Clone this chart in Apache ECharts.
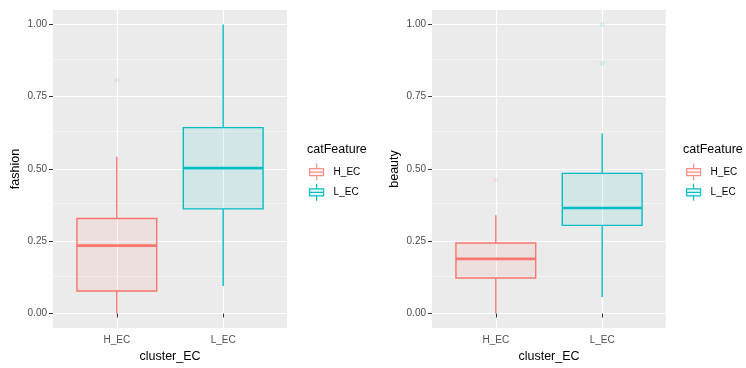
<!DOCTYPE html>
<html>
<head>
<meta charset="utf-8">
<script src="https://cdn.jsdelivr.net/npm/echarts@6/dist/echarts.min.js"></script>
<style>html,body{margin:0;padding:0;background:#fff;}#c{width:746px;height:368px;}</style>
</head>
<body>
<div id="c"></div>
<script>
// ---- data ----
const categories = ['H_EC', 'L_EC'];
const xPositions = [1, 2];
const yTicks = [0, 0.25, 0.5, 0.75, 1.0];
const yMinorTicks = [0.125, 0.375, 0.625, 0.875];
// [min, Q1, median, Q3, max]
const fashionH = [0.000, 0.078, 0.235, 0.329, 0.542];
const fashionL = [0.095, 0.362, 0.503, 0.643, 1.000];
const fashionOutH = [0.808];
const fashionOutL = [];
const beautyH = [0.000, 0.123, 0.189, 0.244, 0.340];
const beautyL = [0.057, 0.305, 0.365, 0.485, 0.623];
const beautyOutH = [0.462];
const beautyOutL = [0.865, 1.000];

const COLORS = { H_EC: '#F8766D', L_EC: '#00BFC4' };
const FILLS = { H_EC: 'rgba(248,118,109,0.1)', L_EC: 'rgba(0,191,196,0.1)' };
const OUT = { H_EC: 'rgba(248,118,109,0.18)', L_EC: 'rgba(0,191,196,0.18)' };
const BOX_WIDTH = 0.75;
const FONT = "'Liberation Sans', Arial, sans-serif";

function renderBox(params, api) {
  const x = api.value(0);
  const lo = api.coord([x, api.value(1)]);
  const q1 = api.coord([x, api.value(2)]);
  const med = api.coord([x, api.value(3)]);
  const q3 = api.coord([x, api.value(4)]);
  const hi = api.coord([x, api.value(5)]);
  const w = api.size([BOX_WIDTH, 0])[0];
  const c = COLORS[params.seriesName];
  const f = FILLS[params.seriesName];
  return {
    type: 'group',
    children: [
      { type: 'line', shape: { x1: lo[0], y1: lo[1], x2: q1[0], y2: q1[1] }, style: { stroke: c, lineWidth: 1.4 } },
      { type: 'line', shape: { x1: q3[0], y1: q3[1], x2: hi[0], y2: hi[1] }, style: { stroke: c, lineWidth: 1.4 } },
      { type: 'rect', shape: { x: q3[0] - w / 2, y: q3[1], width: w, height: q1[1] - q3[1] }, style: { fill: f, stroke: c, lineWidth: 1.4 } },
      { type: 'line', shape: { x1: med[0] - w / 2, y1: med[1], x2: med[0] + w / 2, y2: med[1] }, style: { stroke: c, lineWidth: 2.6 } }
    ]
  };
}

function boxSeries(name, stats, gi, xi) {
  return {
    type: 'custom', name: name, xAxisIndex: gi, yAxisIndex: gi,
    renderItem: renderBox,
    encode: { x: 0, y: [1, 2, 3, 4, 5] },
    itemStyle: { color: COLORS[name] },
    data: [[xPositions[xi]].concat(stats)],
    z: 3
  };
}
function outSeries(name, vals, gi, xi, withMinor) {
  const s = {
    type: 'scatter', name: name, xAxisIndex: gi, yAxisIndex: gi,
    symbolSize: 5, itemStyle: { color: OUT[name] },
    data: vals.map(v => [xPositions[xi], v]), z: 4, silent: true
  };
  if (withMinor) {
    s.markLine = {
      silent: true, symbol: ['none', 'none'], z: 1,
      label: { show: false },
      lineStyle: { color: '#F6F6F6', width: 0.8, type: 'solid' },
      emphasis: { disabled: true },
      data: yMinorTicks.map(v => ({ yAxis: v }))
    };
  }
  return s;
}

const panels = [
  { left: 53, yName: 'fashion', legendLeft: 309, titleLeft: 307 },
  { left: 432, yName: 'beauty', legendLeft: 686, titleLeft: 683 }
];
const PLOT_W = 234, PLOT_TOP = 10, PLOT_H = 321;

const keyIcon = 'path://M0,5 L14,5 L14,12 L0,12 Z M0,8.5 L14,8.5 M7,0 L7,5 M7,12 L7,17';

const option = {
  animation: false,
  textStyle: { fontFamily: FONT },
  title: panels.map(p => ({
    text: 'catFeature', left: p.titleLeft, top: 143, padding: 0,
    textStyle: { fontSize: 12.5, fontWeight: 'normal', color: '#000', fontFamily: FONT }
  })),
  legend: panels.map(p => ({
    orient: 'vertical', left: p.legendLeft, top: 163, padding: 0,
    itemWidth: 16, itemHeight: 17, itemGap: 2,
    textStyle: { fontSize: 10, color: '#000', fontFamily: FONT, padding: [0, 0, 0, 4] },
    selectedMode: false,
    data: categories.map(n => ({
      name: n, icon: keyIcon,
      itemStyle: { color: FILLS[n], borderColor: COLORS[n], borderWidth: 1.2 }
    }))
  })),
  grid: panels.map(p => ({
    left: p.left, top: PLOT_TOP, width: PLOT_W, height: PLOT_H,
    show: true, backgroundColor: '#EBEBEB', borderWidth: 0
  })),
  xAxis: panels.map((p, i) => ({
    type: 'value', gridIndex: i, min: 0.4, max: 2.6,
    name: 'cluster_EC', nameLocation: 'middle', nameGap: 22,
    nameTextStyle: { fontSize: 12.5, color: '#000', fontFamily: FONT },
    axisLine: { show: false },
    axisTick: { show: true, length: 4, lineStyle: { color: '#333', width: 1 }, customValues: xPositions },
    axisLabel: { customValues: xPositions, margin: 7, fontSize: 10, color: '#4D4D4D', fontFamily: FONT,
      formatter: v => categories[xPositions.indexOf(v)] || '' },
    splitLine: { show: true, lineStyle: { color: '#FFFFFF', width: 1.2 } }
  })),
  yAxis: panels.map((p, i) => ({
    type: 'value', gridIndex: i, min: -0.05, max: 1.05,
    name: p.yName, nameLocation: 'middle', nameGap: 31, nameRotate: 90,
    nameTextStyle: { fontSize: 12.5, color: '#000', fontFamily: FONT },
    axisLine: { show: false },
    axisTick: { show: true, length: 4, lineStyle: { color: '#333', width: 1 }, customValues: yTicks },
    axisLabel: { customValues: yTicks, margin: 6, fontSize: 10, color: '#4D4D4D', fontFamily: FONT,
      formatter: v => v.toFixed(2) },
    splitLine: { show: true, lineStyle: { color: '#FFFFFF', width: 1.2 } }
  })),
  series: [
    outSeries('H_EC', fashionOutH, 0, 0, true),
    boxSeries('H_EC', fashionH, 0, 0),
    boxSeries('L_EC', fashionL, 0, 1),
    outSeries('L_EC', fashionOutL, 0, 1, false),
    outSeries('H_EC', beautyOutH, 1, 0, true),
    boxSeries('H_EC', beautyH, 1, 0),
    boxSeries('L_EC', beautyL, 1, 1),
    outSeries('L_EC', beautyOutL, 1, 1, false)
  ]
};

const chart = echarts.init(document.getElementById('c'), null, { renderer: 'canvas' });
chart.setOption(option);
</script>
</body>
</html>
